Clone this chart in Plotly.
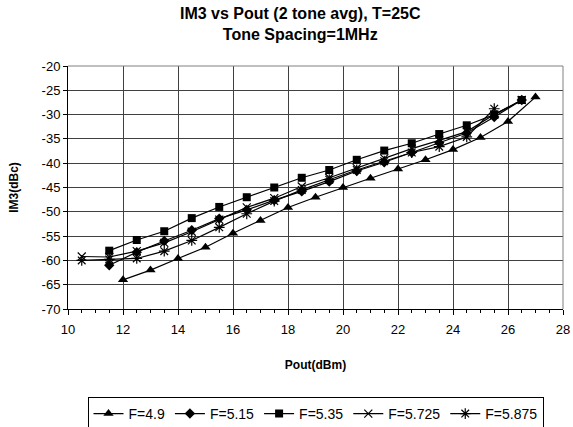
import plotly.graph_objects as go

# Pout (dBm) sample points
x_int = [12, 13, 14, 15, 16, 17, 18, 19, 20, 21, 22, 23, 24, 25, 26, 27]
x_half_a = [11.5, 12.5, 13.5, 14.5, 15.5, 16.5, 17.5, 18.5, 19.5, 20.5, 21.5, 22.5, 23.5, 24.5, 25.5, 26.5]
x_half_b = [10.5, 11.5, 12.5, 13.5, 14.5, 15.5, 16.5, 17.5, 18.5, 19.5, 20.5, 21.5, 22.5, 23.5, 24.5, 25.5, 26.5]
x_half_c = [10.5, 11.5, 12.5, 13.5, 14.5, 15.5, 16.5, 17.5, 18.5, 19.5, 20.5, 21.5, 22.5, 23.5, 24.5, 25.5]

# IM3 (dBc) per frequency
im3_f4900 = [-64.0, -62.0, -59.6, -57.3, -54.4, -51.8, -49.1, -47.0, -45.0, -43.1, -41.2, -39.3, -37.2, -34.7, -31.4, -26.4]
im3_f5150 = [-61.0, -58.3, -56.0, -53.8, -51.4, -49.6, -47.6, -45.8, -43.8, -41.6, -39.8, -37.8, -35.8, -33.8, -30.5, -27.0]
im3_f5350 = [-58.0, -55.8, -54.0, -51.3, -49.0, -47.0, -45.0, -43.0, -41.4, -39.3, -37.4, -35.9, -34.0, -32.2, -30.0, -27.0]
im3_f5725 = [-59.2, -59.3, -58.1, -56.4, -54.1, -51.6, -49.1, -47.2, -44.8, -43.0, -41.0, -39.0, -37.0, -35.3, -33.5, -30.0, -27.0]
im3_f5875 = [-60.0, -59.8, -59.6, -58.1, -55.9, -53.2, -50.4, -47.8, -45.5, -43.4, -41.4, -39.6, -37.8, -36.6, -34.6, -28.8]

names = ["F=4.9", "F=5.15", "F=5.35", "F=5.725", "F=5.875"]
x_ticks = [10, 12, 14, 16, 18, 20, 22, 24, 26, 28]
y_ticks = [-20, -25, -30, -35, -40, -45, -50, -55, -60, -65, -70]

series = [
    (x_int, im3_f4900, "triangle-up", 9, False),
    (x_half_a, im3_f5150, "diamond", 8, False),
    (x_half_a, im3_f5350, "square", 8, False),
    (x_half_b, im3_f5725, "x-thin-open", 8, True),
    (x_half_c, im3_f5875, "asterisk-open", 9, True),
]

fig = go.Figure()
for (xs, ys, sym, sz, is_open), name in zip(series, names):
    fig.add_trace(go.Scatter(
        x=xs, y=ys, name=name, mode="lines+markers",
        line=dict(color="black", width=1.2),
        marker=dict(symbol=sym, size=sz, color="black",
                    line=dict(color="black", width=1.2 if is_open else 0)),
    ))

FONT = "Liberation Sans, Arial, sans-serif"
fig.update_layout(
    width=573, height=427,
    margin=dict(l=68, r=10, t=66, b=118, autoexpand=False),
    paper_bgcolor="white", plot_bgcolor="white",
    font=dict(family=FONT, color="black", size=13),
    showlegend=True,
    legend=dict(orientation="h", x=0.5, xanchor="center", y=-0.362, yanchor="top",
                bordercolor="black", borderwidth=1, font=dict(size=14),
                bgcolor="white", tracegroupgap=0),
    annotations=[dict(
        text="<b>IM3 vs Pout (2 tone avg), T=25C<br>Tone Spacing=1MHz</b>",
        xref="paper", yref="paper", x=0.47, y=1 + 63 / 243, xanchor="center", yanchor="top",
        showarrow=False, font=dict(size=16, family=FONT, color="black"),
    )],
)
fig.update_xaxes(
    range=[10, 28], tickvals=x_ticks, ticktext=[str(v) for v in x_ticks],
    showgrid=True, gridcolor="#404040", gridwidth=1,
    showline=True, linecolor="black", linewidth=1, mirror=False,
    ticks="outside", ticklen=5, tickcolor="black",
    minor=dict(dtick=0.5, ticks="outside", ticklen=3, tickcolor="black", showgrid=False),
    ticklabelstandoff=3, automargin=False,
    tickfont=dict(size=13),
    title=dict(text="<b>Pout(dBm)</b>", font=dict(size=12), standoff=25),
    zeroline=False,
)
fig.update_yaxes(
    range=[-70, -20], tickvals=y_ticks, ticktext=[str(v) for v in y_ticks],
    showgrid=True, gridcolor="#404040", gridwidth=1,
    showline=True, linecolor="black", linewidth=1,
    ticks="outside", ticklen=4, tickcolor="black", automargin=False,
    tickfont=dict(size=13),
    title=dict(text="<b>IM3(dBc)</b>", font=dict(size=12), standoff=20),
    zeroline=False,
)
# gray plot-area border on top and right
fig.add_shape(type="line", xref="paper", yref="paper", x0=0, x1=1, y0=1, y1=1,
              line=dict(color="#808080", width=1))
fig.add_shape(type="line", xref="paper", yref="paper", x0=1, x1=1, y0=0, y1=1,
              line=dict(color="#808080", width=1))

# remove the browser's default body margin so the 573x427 figure fills the window
fig.write_html("out.html",
               config={"displayModeBar": False},
               post_script="document.body.style.margin='0';document.body.style.overflow='hidden';")
